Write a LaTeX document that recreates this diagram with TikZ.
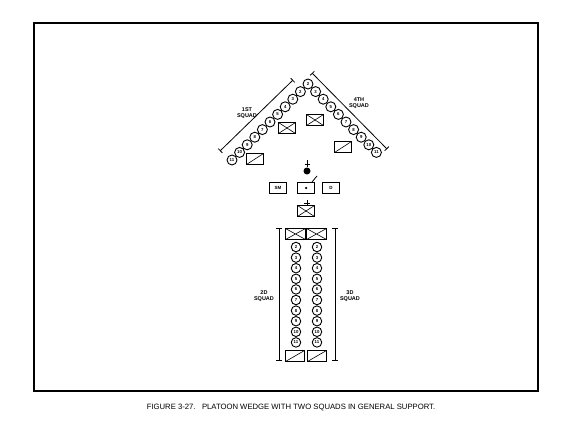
\documentclass[tikz,border=0pt]{standalone}
\usepackage{fontspec}
\setmainfont{Liberation Sans}
\usetikzlibrary{arrows.meta}

\tikzset{
  man/.style={circle,draw,fill=white,line width=0.9pt,inner sep=0pt,minimum size=10pt,
    font=\fontsize{4.3}{4.3}\selectfont\bfseries},
  colman/.style={man,minimum size=9.5pt},
  veh/.style={draw,line width=0.8pt,minimum width=17pt,minimum height=11pt,inner sep=0pt,
    font=\fontsize{4.5}{4.5}\selectfont\bfseries},
  xveh/.style={veh,path picture={
    \draw[line width=0.6pt] (path picture bounding box.north west) -- (path picture bounding box.south east)
      (path picture bounding box.south west) -- (path picture bounding box.north east);}},
  sveh/.style={veh,path picture={
    \draw[line width=0.6pt] (path picture bounding box.south west) -- (path picture bounding box.north east);}},
  sqlabel/.style={align=center,font=\fontsize{5.5}{5.5}\selectfont\bfseries},
  dimline/.style={line width=0.8pt,{Bar[width=6pt]}-{Bar[width=6pt]}},
}

\begin{document}
\begin{tikzpicture}[x=1pt,y=-1pt]
    \useasboundingbox (0,0) rectangle (580,439);
    % Frame
    \draw[line width=2pt] (34,23) rectangle (538,391);

    % 4th squad (right arm, apex first)
    \foreach \k in {0,...,9}{
      \pgfmathtruncatemacro\n{\k+2}
      \node[man] (r\n) at (308+7.6*\k,84+7.6*\k) {\n};
    }
    % 1st squad (left arm)
    \foreach \k in {1,...,10}{
      \pgfmathtruncatemacro\n{\k+1}
      \node[man] (l\n) at (308-7.6*\k,84+7.6*\k) {\n};
    }

    % Squad extent lines
    \coordinate (ltop) at (293,80);
    \coordinate (lbot) at (220,151);
    \draw[dimline] (ltop) -- (lbot);
    \coordinate (rtop) at (312,73);
    \coordinate (rbot) at (387,149);
    \draw[dimline] (rtop) -- (rbot);
    \node[sqlabel] (lsq) at (247,113) {1ST\\SQUAD};
    \node[sqlabel] (rsq) at (359,103) {4TH\\SQUAD};

    % Wedge vehicles
    \node[xveh] (lx) at (287,128) {};
    \node[xveh] (rx) at (315,120) {};
    \node[sveh] (ls) at (255,159) {};
    \node[sveh] (rs) at (343,147) {};

    % Platoon leader and HQ
    \node[circle,fill,inner sep=0pt,minimum size=7pt] (pl) at (307,171) {};
    \coordinate (pltip) at (307,160);
    \draw[line width=0.8pt] (pl) -- (pltip);
    \draw[line width=0.8pt] (304.5,164) -- (309.5,164);
    \node[veh] (sm) at (278,188) {SM};
    \node[veh] (hq) at (306,188) {};
    \node[circle,fill,inner sep=0pt,minimum size=2.5pt] (hqdot) at (306,188) {};
    \coordinate (ant) at (317,176);
    \draw[line width=0.8pt] (hq.north east) ++(-3,0) coordinate (antb) -- (ant);
    \node[veh] (dd) at (331,188) {D};
    \node[xveh] (px) at (306,211) {};
    \draw[line width=0.8pt] (307,200) -- (307,206) (304,203) -- (310,203);

    % 2d and 3d squads (columns)
    \node[xveh,minimum width=20pt] (bx) at (295.5,234) {};
    \node[xveh,minimum width=20pt] (cx) at (316.5,234) {};
    \foreach \k in {0,...,9}{
      \pgfmathtruncatemacro\n{\k+2}
      \node[colman] (b\n) at (296,247+10.6*\k) {\n};
      \node[colman] (c\n) at (317,247+10.6*\k) {\n};
    }
    \node[sveh,minimum width=19pt] (bs) at (295,356) {};
    \node[sveh,minimum width=19pt] (cs) at (317,356) {};

    \coordinate (btop) at (279,228);
    \coordinate (bbot) at (279,361);
    \draw[dimline] (btop) -- (bbot);
    \coordinate (ctop) at (335,228);
    \coordinate (cbot) at (335,361);
    \draw[dimline] (ctop) -- (cbot);
    \node[sqlabel] (bsq) at (264,296) {2D\\SQUAD};
    \node[sqlabel] (csq) at (350,296) {3D\\SQUAD};

    % Caption
    \node[font=\fontsize{7.7}{9}\selectfont] (cap) at (291,408)
      {FIGURE 3-27.\ \ \ PLATOON WEDGE WITH TWO SQUADS IN GENERAL SUPPORT.};
\end{tikzpicture}
\end{document}
